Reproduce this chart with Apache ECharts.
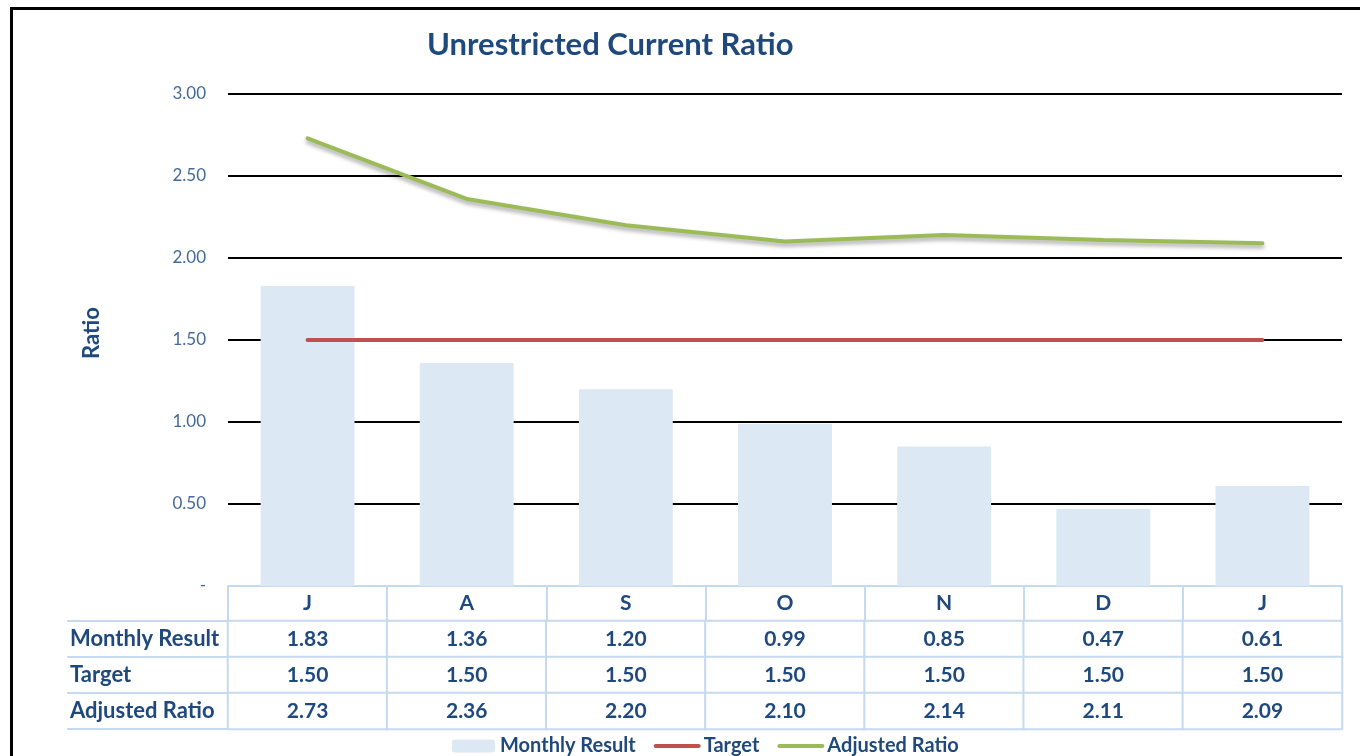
<!DOCTYPE html>
<html>
<head>
<meta charset="utf-8">
<title>Unrestricted Current Ratio</title>
<script src="https://cdn.jsdelivr.net/npm/echarts@6/dist/echarts.min.js"></script>
<style>
  html, body { margin: 0; padding: 0; background: #fff; }
  #chart { width: 1360px; height: 756px; }
  #frame {
    position: absolute; left: 10px; top: 7px; width: 1360px; height: 760px;
    border-left: 3px solid #000; border-top: 3px solid #000; pointer-events: none;
  }
</style>
</head>
<body>
<div id="chart"></div>
<div id="frame"></div>
<script>
const months = ['J', 'A', 'S', 'O', 'N', 'D', 'J'];
const monthlyResult = [1.83, 1.36, 1.20, 0.99, 0.85, 0.47, 0.61];
const target = [1.50, 1.50, 1.50, 1.50, 1.50, 1.50, 1.50];
const adjustedRatio = [2.73, 2.36, 2.20, 2.10, 2.14, 2.11, 2.09];
const rowNames = ['Monthly Result', 'Target', 'Adjusted Ratio'];

const navy = '#1f497d';
const cellLine = '#c6d9f0';
const font = 'Lato, "Open Sans", sans-serif';

// table cells: [col, row, value]
const rows = [monthlyResult, target, adjustedRatio];
const tableData = [];
rows.forEach(function (arr, r) {
  arr.forEach(function (v, c) { tableData.push([c, r, v]); });
});

const chart = echarts.init(document.getElementById('chart'));
const option = {
  animation: false,
  textStyle: { fontFamily: font },
  title: {
    text: 'Unrestricted Current Ratio',
    left: 422,
    top: 24,
    textStyle: { color: navy, fontSize: 31, fontWeight: 'bold', fontFamily: font }
  },
  legend: {
    left: 447,
    top: 731,
    itemWidth: 43,
    itemHeight: 13,
    itemGap: 18,
    textStyle: { color: navy, fontSize: 20, fontWeight: 'bold', fontFamily: font },
    data: [
      'Monthly Result',
      { name: 'Target', itemStyle: { opacity: 0 }, lineStyle: { width: 4 } },
      { name: 'Adjusted Ratio', itemStyle: { opacity: 0 }, lineStyle: { width: 4 } }
    ]
  },
  grid: [
    { left: 228, right: 18, top: 94, bottom: 170 },
    { left: 228, right: 18, top: 621, height: 108 }
  ],
  xAxis: [
    {
      type: 'category',
      gridIndex: 0,
      data: months,
      axisLine: { show: true, lineStyle: { color: cellLine, width: 2 } },
      axisTick: { show: true, length: 35, interval: 0, lineStyle: { color: cellLine, width: 2 } },
      axisLabel: { margin: 7, color: navy, fontSize: 21, fontWeight: 'bold', fontFamily: font, interval: 0 }
    },
    {
      type: 'category',
      gridIndex: 1,
      data: months,
      show: false
    }
  ],
  yAxis: [
    {
      type: 'value',
      gridIndex: 0,
      min: 0,
      max: 3,
      interval: 0.5,
      name: 'Ratio',
      nameLocation: 'middle',
      nameGap: 125,
      nameTextStyle: { color: navy, fontSize: 22, fontWeight: 'bold', fontFamily: font, padding: [0, 0, 0, 14] },
      axisLine: { show: false },
      axisTick: { show: false },
      axisLabel: {
        margin: 22,
        color: '#44699b',
        fontSize: 17,
        fontFamily: font,
        formatter: function (v) { return v === 0 ? '-' : v.toFixed(2); }
      },
      splitLine: {
        show: true,
        lineStyle: { color: [cellLine, '#000', '#000', '#000', '#000', '#000', '#000'], width: 2 }
      }
    },
    {
      type: 'category',
      gridIndex: 1,
      data: rowNames,
      inverse: true,
      axisLine: { show: false },
      axisTick: { show: true, length: 161, interval: 0, lineStyle: { color: cellLine, width: 2 } },
      axisLabel: {
        align: 'left',
        margin: 158,
        color: navy,
        fontSize: 22,
        fontWeight: 'bold',
        fontFamily: font
      }
    },
    {
      type: 'category',
      gridIndex: 1,
      data: rowNames,
      inverse: true,
      offset: 161,
      axisLine: { show: true, lineStyle: { color: cellLine, width: 2 } },
      axisTick: { show: false },
      axisLabel: { show: false }
    }
  ],
  series: [
    {
      name: 'Monthly Result',
      type: 'bar',
      xAxisIndex: 0,
      yAxisIndex: 0,
      barCategoryGap: '41%',
      itemStyle: { color: '#dce8f4' },
      data: monthlyResult
    },
    {
      name: 'Target',
      type: 'line',
      xAxisIndex: 0,
      yAxisIndex: 0,
      symbol: 'none',
      lineStyle: { color: '#c0504d', width: 4, cap: 'round' },
      itemStyle: { color: '#c0504d' },
      data: target
    },
    {
      name: 'Adjusted Ratio',
      type: 'line',
      xAxisIndex: 0,
      yAxisIndex: 0,
      symbol: 'none',
      lineStyle: {
        color: '#9bbb59', width: 4, cap: 'round',
        shadowColor: 'rgba(0,0,0,0.35)', shadowBlur: 4, shadowOffsetY: 3
      },
      itemStyle: { color: '#9bbb59' },
      data: adjustedRatio
    },
    {
      name: 'table',
      type: 'heatmap',
      xAxisIndex: 1,
      yAxisIndex: 1,
      data: tableData,
      itemStyle: { color: '#fff', borderColor: cellLine, borderWidth: 2 },
      label: {
        show: true,
        color: navy,
        fontSize: 21,
        fontWeight: 'bold',
        fontFamily: font,
        formatter: function (p) { return p.value[2].toFixed(2); }
      },
      emphasis: { disabled: true }
    }
  ]
};
chart.setOption(option);
</script>
</body>
</html>
